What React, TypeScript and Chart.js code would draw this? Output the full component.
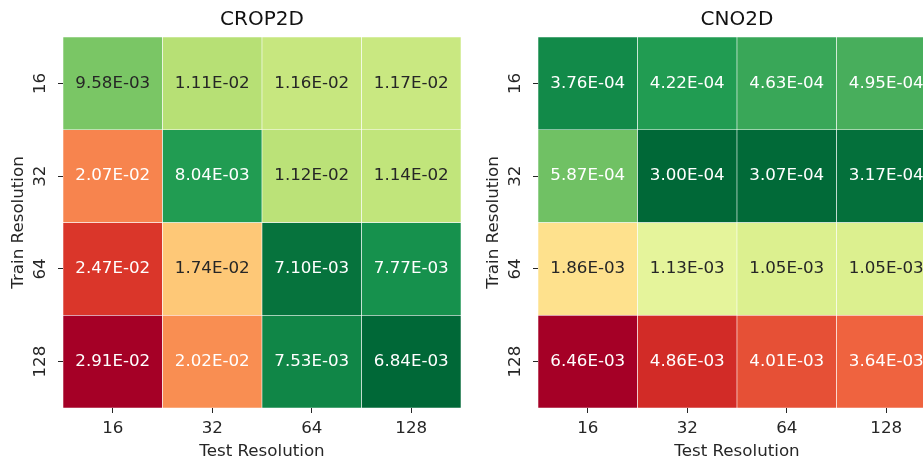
import React, { useEffect, useRef } from 'react';
import { Chart, registerables } from 'chart.js';

Chart.register(...registerables);
Chart.defaults.font.family = "'DejaVu Sans', sans-serif";

// ---- data ----
const trainRes = ['16', '32', '64', '128'];
const testRes = ['16', '32', '64', '128'];

const crop2d = [
  [9.58e-3, 1.11e-2, 1.16e-2, 1.17e-2],
  [2.07e-2, 8.04e-3, 1.12e-2, 1.14e-2],
  [2.47e-2, 1.74e-2, 7.10e-3, 7.77e-3],
  [2.91e-2, 2.02e-2, 7.53e-3, 6.84e-3],
];

const cno2d = [
  [3.76e-4, 4.22e-4, 4.63e-4, 4.95e-4],
  [5.87e-4, 3.00e-4, 3.07e-4, 3.17e-4],
  [1.86e-3, 1.13e-3, 1.05e-3, 1.05e-3],
  [6.46e-3, 4.86e-3, 4.01e-3, 3.64e-3],
];

const panelTitles = ['CROP2D', 'CNO2D'];
const xTitle = 'Test Resolution';
const yTitle = 'Train Resolution';

// ---- colormap (RdYlGn reversed, log norm) ----
const RDYLGN = [
  [165, 0, 38], [215, 48, 39], [244, 109, 67], [253, 174, 97], [254, 224, 139],
  [255, 255, 191], [217, 239, 139], [166, 217, 106], [102, 189, 99], [26, 152, 80], [0, 104, 55],
];

function rdylgnR(t: number): number[] {
  const q = Math.min(255, Math.max(0, Math.floor(t * 256)));
  const s = 1 - q / 255;
  const pos = s * 10;
  const i = Math.min(9, Math.floor(pos));
  const f = pos - i;
  const a = RDYLGN[i], b = RDYLGN[i + 1];
  return [0, 1, 2].map((k) => Math.round(a[k] + (b[k] - a[k]) * f));
}

function luminance(rgb: number[]): number {
  const c = rgb.map((v) => {
    const x = v / 255;
    return x <= 0.03928 ? x / 12.92 : Math.pow((x + 0.055) / 1.055, 2.4);
  });
  return 0.2126 * c[0] + 0.7152 * c[1] + 0.0722 * c[2];
}

function fmt(v: number): string {
  const [m, e] = v.toExponential(2).split('e');
  const n = parseInt(e, 10);
  return `${m.toUpperCase()}E${n < 0 ? '-' : '+'}${String(Math.abs(n)).padStart(2, '0')}`;
}

const TEXT = '#262626';
const FS = 16.7;

function Heatmap({ title, values }: { title: string; values: number[][] }) {
  const ref = useRef<HTMLCanvasElement | null>(null);

  useEffect(() => {
    if (!ref.current) return;
    const flat = values.flat();
    const lmin = Math.log(Math.min(...flat));
    const lmax = Math.log(Math.max(...flat));
    const rgbOf = (v: number) => rdylgnR((Math.log(v) - lmin) / (lmax - lmin));
    const css = (c: number[]) => `rgb(${c[0]},${c[1]},${c[2]})`;

    const datasets = values.map((row, r) => ({
      label: trainRes[r],
      data: row.map(() => [r, r + 1]),
      backgroundColor: row.map((v) => css(rgbOf(v))),
      borderColor: '#ffffff',
      borderWidth: 0.6,
      borderSkipped: false,
      grouped: false,
      barPercentage: 1,
      categoryPercentage: 1,
    }));

    const annot = {
      id: 'annot',
      afterDatasetsDraw(chart: any) {
        const ctx = chart.ctx;
        ctx.save();
        ctx.font = `${FS}px 'DejaVu Sans'`;
        ctx.textAlign = 'center';
        ctx.textBaseline = 'middle';
        values.forEach((row, r) => {
          const meta = chart.getDatasetMeta(r);
          row.forEach((v, j) => {
            const el: any = meta.data[j];
            const cx = el.x;
            const cy = (el.y + el.base) / 2;
            ctx.fillStyle = luminance(rgbOf(v)) > 0.44 ? TEXT : '#ffffff';
            ctx.fillText(fmt(v), cx, cy);
          });
        });
        ctx.restore();
      },
    };

    const tickFont = { size: FS, lineHeight: 1 };
    const chart = new Chart(ref.current, {
      type: 'bar',
      data: { labels: testRes, datasets: datasets as any },
      options: {
        animation: false,
        responsive: false,
        layout: { padding: { left: 0, right: 14, top: 0, bottom: 0 } },
        plugins: {
          legend: { display: false },
          tooltip: { enabled: false },
          title: {
            display: true,
            text: title,
            fullSize: false,
            color: '#111',
            font: { size: 20, lineHeight: 1, weight: 'normal' },
            padding: { top: 10, bottom: 7 },
          },
        },
        scales: {
          x: {
            type: 'category',
            offset: true,
            grid: { display: true, drawOnChartArea: false, drawTicks: true, tickLength: 5, color: TEXT, lineWidth: 1, offset: false },
            border: { display: false },
            ticks: { color: TEXT, font: tickFont, padding: 7, minRotation: 0, maxRotation: 0 },
            title: { display: true, text: xTitle, color: TEXT, font: { size: FS, lineHeight: 0.82 }, padding: { top: 0, bottom: 0 } },
            afterFit(s: any) { s.height = 51; },
          },
          y: {
            type: 'linear',
            min: 0,
            max: 4,
            reverse: true,
            grid: { display: true, drawOnChartArea: false, drawTicks: true, tickLength: 5, color: TEXT, lineWidth: 1 },
            border: { display: false },
            ticks: {
              color: TEXT,
              font: tickFont,
              padding: 1,
              minRotation: 90,
              maxRotation: 90,
              crossAlign: 'center',
              callback: (v: any) => trainRes[Math.floor(Number(v))],
            },
            afterBuildTicks(s: any) {
              s.ticks = [0.5, 1.5, 2.5, 3.5].map((v) => ({ value: v }));
            },
            title: { display: true, text: yTitle, color: TEXT, font: tickFont, padding: { top: 10, bottom: 0 } },
            afterFit(s: any) { s.width = 63; },
          },
        },
      } as any,
      plugins: [annot],
    });
    return () => chart.destroy();
  }, [title, values]);

  return (
    <canvas
      ref={ref}
      width={475}
      height={459}
      style={{ display: 'block', width: 475, height: 459, flexShrink: 0 }}
    />
  );
}

export default function App() {
  return (
    <div style={{ position: 'fixed', left: 0, top: 0, width: 923, height: 459, overflow: 'hidden', background: '#ffffff' }}>
      <div style={{ display: 'flex', width: 950 }}>
        <Heatmap title={panelTitles[0]} values={crop2d} />
        <Heatmap title={panelTitles[1]} values={cno2d} />
      </div>
    </div>
  );
}
